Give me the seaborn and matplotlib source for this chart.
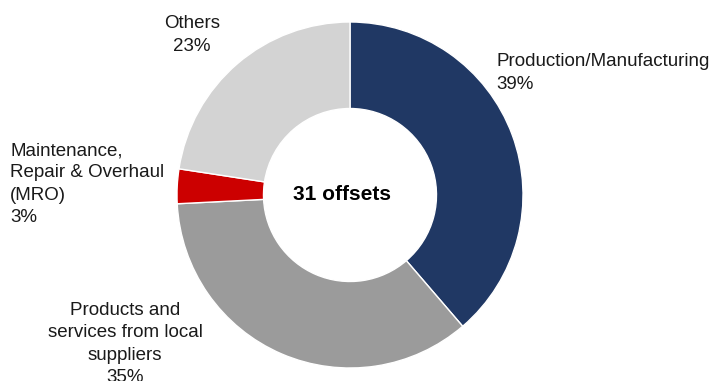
import matplotlib
matplotlib.use("Agg")
import matplotlib.pyplot as plt
import seaborn as sns

# offsets by category (31 in total)
categories = ["Production/Manufacturing", "Products and\nservices from local\nsuppliers",
              "Maintenance,\nRepair & Overhaul\n(MRO)", "Others"]
counts = [12, 11, 1, 7]
colors = ["#203864", "#9B9B9B", "#CC0000", "#D3D3D3"]
center_label = f"{sum(counts)} offsets"

# label placement in pixels (x, y, ha)
label_pos = [(496, 73, "left"), (125, 344, "center"), (10, 184, "left"), (192, 35, "center")]

sns.set_theme(style="white")
plt.rcParams["font.family"] = ["Liberation Sans", "DejaVu Sans"]

W, H = 710, 381
CX, CY, R = 350, 195, 173

fig = plt.figure(figsize=(W / 100, H / 100), dpi=100)
ax = fig.add_axes([0, 0, 1, 1])
ax.pie(counts, colors=colors, startangle=90, counterclock=False, radius=1,
       wedgeprops=dict(width=0.5, edgecolor="white", linewidth=1))
ax.set_xlim(-CX / R, (W - CX) / R)
ax.set_ylim((CY - H) / R, CY / R)
ax.set_aspect("equal")
ax.axis("off")


def px(x, y):
    return (x - CX) / R, (CY - y) / R


total = sum(counts)
for cat, n, (x, y, ha) in zip(categories, counts, label_pos):
    ax.text(*px(x, y), f"{cat}\n{n / total:.0%}", ha=ha, va="center",
            multialignment=ha, fontsize=13.5, color="#1a1a1a", linespacing=1.4)

ax.text(*px(342, 194), center_label, ha="center", va="center",
        fontsize=15, fontweight="bold", color="black")

fig.savefig("out.png", dpi=100)
